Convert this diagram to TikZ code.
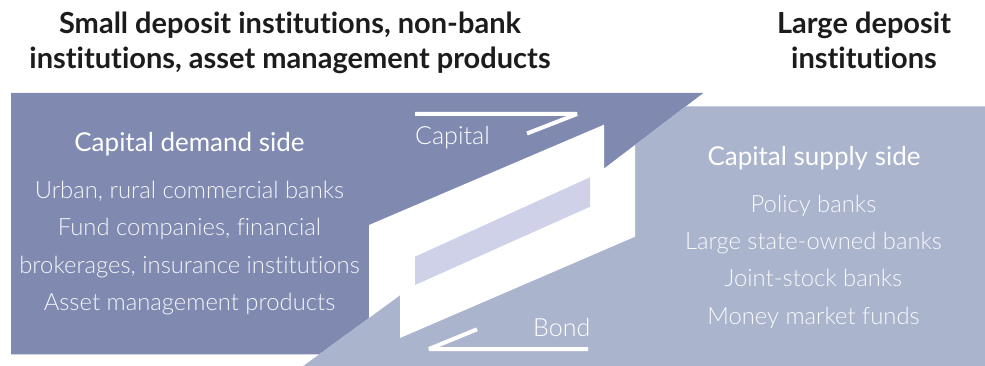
\documentclass[tikz,border=0pt]{standalone}
\usepackage{fontspec}
\setmainfont{Lato}[Ligatures={NoCommon,NoContextual}]
\newfontfamily\lightfont{Lato Light}[Ligatures={NoCommon,NoContextual}]
\definecolor{darkbg}{RGB}{128,138,176}
\definecolor{lightbg}{RGB}{171,180,205}
\definecolor{bandc}{RGB}{206,209,232}
\definecolor{titlec}{RGB}{28,28,28}
\tikzset{
  titletext/.style={font=\bfseries\fontsize{29}{33}\selectfont, text=titlec, anchor=base, inner sep=0pt},
  headtext/.style={font=\fontsize{26}{30}\selectfont, text=white, anchor=base, inner sep=0pt},
  itemtext/.style={font=\lightfont\fontsize{23.8}{28}\selectfont, text=white, text opacity=0.92, anchor=base, inner sep=0pt},
  flowtext/.style={font=\lightfont\fontsize{25}{29}\selectfont, text=white, anchor=base west, inner sep=0pt},
  flowline/.style={draw=white, line width=4pt, line join=bevel}
}
\begin{document}
\begin{tikzpicture}[x=1pt,y=-1pt]
\useasboundingbox (0,0) rectangle (985,366);
% backgrounds
\fill[darkbg] (11,93) -- (703.3,93) -- (604,168.7) -- (369,318) -- (319.3,354.3) -- (11,354.3) -- cycle;
\fill[lightbg] (303.3,366) -- (400,295.3) -- (604,168.7) -- (685.8,106.3) -- (985,106.3) -- (985,366) -- cycle;
% white split parallelogram
\fill[white] (369,225) -- (604,124.7) -- (604,168.7) -- (635,145.1) -- (635,236.7) -- (400,338) -- (400,295.3) -- (369,318) -- cycle;
\fill[bandc] (415,256.7) -- (590,177.3) -- (590,206.7) -- (415,285) -- cycle;
% flow arrows
\coordinate (c1) at (415,114);
\coordinate (c2) at (577,114);
\coordinate (c3) at (527,133.5);
\draw[flowline] (c1) -- (c2) -- (c3);
\coordinate (b1) at (588,349);
\coordinate (b2) at (429,349);
\coordinate (b3) at (477,329.3);
\draw[flowline] (b1) -- (b2) -- (b3);
\node[flowtext] (capital) at (415,145) {Capital};
\node[flowtext] (bond) at (533,336.7) {Bond};
% titles
\node[titletext] (tl1) at (290,33.3) {Small deposit institutions, non-bank};
\node[titletext] (tl2) at (290,68.3) {institutions, asset management products};
\node[titletext] (tr1) at (864,33.3) {Large deposit};
\node[titletext] (tr2) at (864,68.3) {institutions};
% demand side
\node[headtext] (dh) at (189.5,151.7) {Capital demand side};
\node[itemtext] (d1) at (189.5,198.3) {Urban, rural commercial banks};
\node[itemtext] (d2) at (189.5,236) {Fund companies, financial};
\node[itemtext] (d3) at (189.5,273.3) {brokerages, insurance institutions};
\node[itemtext] (d4) at (189.5,310.7) {Asset management products};
% supply side
\node[headtext] (sh) at (814,166) {Capital supply side};
\node[itemtext] (s1) at (813.5,212.7) {Policy banks};
\node[itemtext] (s2) at (813.5,249.3) {Large state-owned banks};
\node[itemtext] (s3) at (813.5,286.7) {Joint-stock banks};
\node[itemtext] (s4) at (813.5,324) {Money market funds};
\end{tikzpicture}
\end{document}
